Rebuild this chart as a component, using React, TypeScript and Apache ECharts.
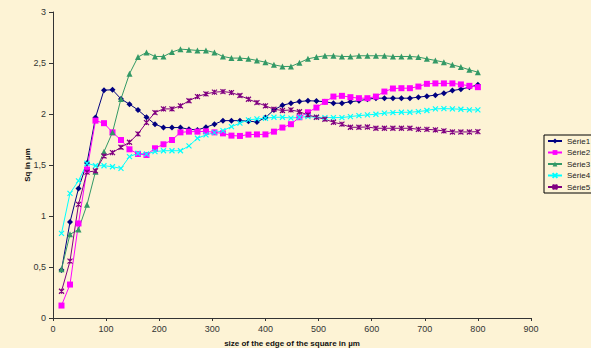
import React, { useEffect, useRef } from "react";
import * as echarts from "echarts";

const xValues = [
  16, 32, 48, 64, 80, 96, 112, 128, 144, 160, 176, 192, 208, 224, 240, 256, 272, 288, 304, 320,
  336, 352, 368, 384, 400, 416, 432, 448, 464, 480, 496, 512, 528, 544, 560, 576, 592, 608, 624, 640,
  656, 672, 688, 704, 720, 736, 752, 768, 784, 800,
];

const serie1 = [
  0.47, 0.94, 1.27, 1.52, 1.965, 2.234, 2.237, 2.148, 2.096, 2.04, 1.968, 1.9, 1.867, 1.867, 1.867, 1.85, 1.844, 1.87, 1.9, 1.935,
  1.935, 1.935, 1.93, 1.922, 1.965, 2.04, 2.086, 2.106, 2.122, 2.13, 2.127, 2.12, 2.106, 2.106, 2.12, 2.13, 2.145, 2.155, 2.155, 2.155,
  2.155, 2.155, 2.165, 2.175, 2.185, 2.204, 2.23, 2.243, 2.263, 2.286,
];
const serie2 = [
  0.122, 0.328, 0.927, 1.455, 1.935, 1.91, 1.82, 1.745, 1.654, 1.608, 1.598, 1.664, 1.703, 1.745, 1.82, 1.827, 1.827, 1.83, 1.82, 1.81,
  1.788, 1.785, 1.798, 1.8, 1.8, 1.827, 1.867, 1.9, 1.968, 2.017, 2.063, 2.119, 2.171, 2.178, 2.165, 2.155, 2.155, 2.171, 2.22, 2.25,
  2.253, 2.253, 2.269, 2.296, 2.3, 2.3, 2.3, 2.29, 2.276, 2.263,
];
const serie3 = [
  0.478, 0.82, 0.868, 1.11, 1.434, 1.63, 1.82, 2.148, 2.394, 2.558, 2.603, 2.564, 2.564, 2.607, 2.636, 2.63, 2.623, 2.623, 2.603, 2.564,
  2.548, 2.548, 2.541, 2.525, 2.508, 2.482, 2.466, 2.466, 2.502, 2.541, 2.558, 2.571, 2.571, 2.564, 2.564, 2.571, 2.571, 2.571, 2.571, 2.564,
  2.564, 2.564, 2.558, 2.541, 2.525, 2.508, 2.482, 2.46, 2.433, 2.41,
];
const serie4 = [
  0.829, 1.222, 1.345, 1.517, 1.493, 1.493, 1.483, 1.467, 1.582, 1.615, 1.608, 1.631, 1.64, 1.64, 1.64, 1.687, 1.762, 1.795, 1.817, 1.837,
  1.876, 1.91, 1.942, 1.952, 1.958, 1.968, 1.968, 1.96, 1.968, 1.975, 1.968, 1.965, 1.965, 1.965, 1.975, 1.984, 1.991, 1.998, 2.008, 2.014,
  2.017, 2.017, 2.024, 2.034, 2.05, 2.053, 2.05, 2.047, 2.04, 2.04,
];
const serie5 = [
  0.262, 0.557, 1.114, 1.43, 1.442, 1.588, 1.621, 1.674, 1.723, 1.805, 1.916, 2.014, 2.05, 2.05, 2.08, 2.13, 2.171, 2.197, 2.214, 2.22,
  2.21, 2.181, 2.145, 2.112, 2.08, 2.047, 2.034, 2.04, 2.022, 1.991, 1.968, 1.949, 1.919, 1.9, 1.87, 1.87, 1.873, 1.86, 1.86, 1.86,
  1.86, 1.86, 1.85, 1.85, 1.844, 1.834, 1.824, 1.824, 1.824, 1.827,
];

const seriesNames = ["Série1", "Série2", "Série3", "Série4", "Série5"];
const seriesValues = [serie1, serie2, serie3, serie4, serie5];
const seriesColors = ["#000080", "#FF00FF", "#339966", "#00FFFF", "#800080"];
const seriesSymbols = [
  "diamond",
  "rect",
  "triangle",
  "path://M0,0L10,10M10,0L0,10",
  "path://M0,0L10,10M10,0L0,10M5,0L5,10",
];
const seriesSymbolSizes = [6, 6, 6, 5, 5];

const FONT = 'Arial, "Liberation Sans", sans-serif';

export default function App() {
  const ref = useRef<HTMLDivElement>(null);

  useEffect(() => {
    document.body.style.margin = "0";
    if (!ref.current) return;
    const chart = echarts.init(ref.current, undefined, { renderer: "svg" });

    const series = seriesNames.map((name, k) => {
      const isStroke = k >= 3;
      return {
        name,
        type: "line",
        data: xValues.map((x, i) => [x, seriesValues[k][i]]),
        symbol: seriesSymbols[k],
        symbolSize: seriesSymbolSizes[k],
        showAllSymbol: true,
        lineStyle: { color: seriesColors[k], width: 1 },
        itemStyle: isStroke
          ? { color: seriesColors[k], borderColor: seriesColors[k], borderWidth: 1.2 }
          : { color: seriesColors[k] },
        emphasis: { disabled: true },
      };
    });

    chart.setOption({
      animation: false,
      backgroundColor: "#FDF3D5",
      textStyle: { fontFamily: FONT },
      grid: {
        left: 53,
        right: 60,
        top: 12,
        bottom: 30,
        containLabel: false,
        outerBoundsMode: "none",
      },
      legend: {
        orient: "vertical",
        left: 544,
        top: 135,
        padding: [2, 8, 2, 3],
        itemWidth: 14,
        itemHeight: 6,
        itemGap: 3.5,
        borderColor: "#000",
        borderWidth: 1,
        textStyle: { fontSize: 8, color: "#222", fontFamily: FONT },
        data: seriesNames,
      },
      xAxis: {
        type: "value",
        min: 0,
        max: 900,
        interval: 100,
        name: "size of the edge of the square in µm",
        nameLocation: "middle",
        nameGap: 21,
        nameMoveOverlap: false,
        nameTextStyle: { fontSize: 8, fontWeight: "bold", color: "#111", fontFamily: FONT },
        axisLine: { show: true, lineStyle: { color: "#333", width: 1 } },
        axisTick: { show: true, length: 3, lineStyle: { color: "#333" } },
        axisLabel: { fontSize: 9, color: "#333", margin: 6, fontFamily: FONT },
        splitLine: { show: false },
      },
      yAxis: {
        type: "value",
        min: 0,
        max: 3,
        interval: 0.5,
        name: "Sq in µm",
        nameLocation: "middle",
        nameGap: 22,
        nameRotate: 90,
        nameMoveOverlap: false,
        nameTextStyle: { fontSize: 8, fontWeight: "bold", color: "#111", fontFamily: FONT },
        axisLine: { show: true, lineStyle: { color: "#333", width: 1 } },
        axisTick: { show: true, length: 4, lineStyle: { color: "#333" } },
        axisLabel: {
          fontSize: 9,
          color: "#333",
          margin: 7,
          fontFamily: FONT,
          formatter: (v: number) => String(v).replace(".", ","),
        },
        splitLine: { show: false },
      },
      series,
    });

    return () => chart.dispose();
  }, []);

  return <div ref={ref} style={{ width: 591, height: 348 }} />;
}
